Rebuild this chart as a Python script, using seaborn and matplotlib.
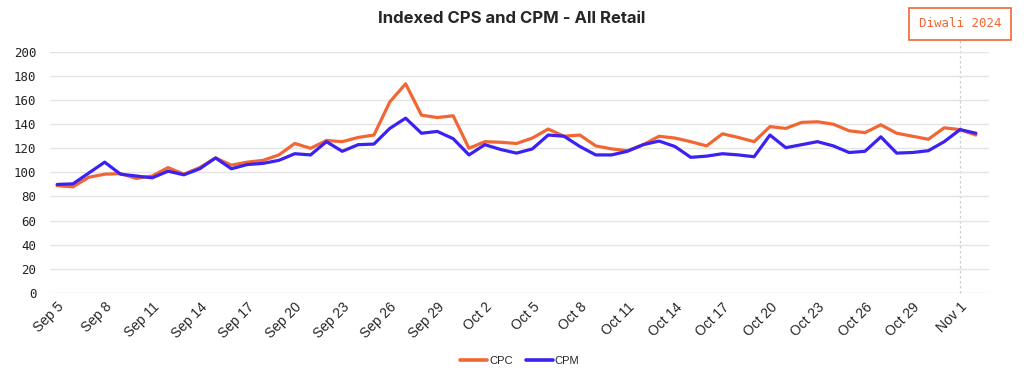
import pandas as pd
import numpy as np
import matplotlib
matplotlib.use('Agg')
import matplotlib.pyplot as plt
import matplotlib.transforms as mtransforms
import seaborn as sns

# ==========================================
# data (one value per day, Sep 5 -> Nov 2)
# ==========================================
start_date = '2024-09-05'
cpc = [89, 88, 96, 98.5, 99, 95, 97, 104, 98.5, 104, 112, 106,
       108.5, 110, 114.5, 124, 120, 126.5, 125.5, 129, 131, 158.5, 173.5, 147.5,
       145.5, 147, 120, 125.5, 125, 124, 128.5, 136, 130, 131, 122, 119.5,
       118, 123, 130, 128.5, 125.5, 122, 132, 129, 125.5, 138, 136.5, 141.5,
       142, 140, 134.5, 133, 139.5, 132.5, 130, 127.5, 137, 135.5, 131]
cpm = [90, 90.5, 99.5, 108.5, 98.5, 97, 95.5, 101, 98, 103, 112, 103,
       106.5, 107.5, 110, 115.5, 114.5, 125.5, 117.5, 123, 123.5, 136.5, 145, 132.5,
       134, 128, 114.5, 123, 119, 116, 119.5, 131, 130, 121.5, 114.5, 114.5,
       117.5, 123, 126, 121.5, 112.5, 113.5, 115.5, 114.5, 113, 131, 120.5, 123,
       125.5, 122, 116.5, 117.5, 129.5, 116, 116.5, 118, 125.5, 135.5, 132.5]
series_names = ['CPC', 'CPM']
tick_step = 3
event_date = '2024-11-01'
event_label = 'Diwali 2024'

dates = pd.date_range(start_date, periods=len(cpc), freq='D')
df = pd.DataFrame({'Date': np.concatenate([dates, dates]),
                   'Value': cpc + cpm,
                   'Metric': [series_names[0]] * len(cpc) + [series_names[1]] * len(cpm)})

# ==========================================
# plot
# ==========================================
sns.set_style('white')
plt.rcParams['font.family'] = ['Liberation Sans', 'DejaVu Sans']

orange = '#F26634'
blue = '#3B22F2'

fig = plt.figure(figsize=(10.24, 3.76), dpi=100)
ax = fig.add_axes([0.049, 0.221, 0.917, 0.641])

sns.lineplot(data=df, x='Date', y='Value', hue='Metric',
             palette={'CPC': orange, 'CPM': blue}, linewidth=2.3, ax=ax)
for ln in ax.get_lines():
    ln.set_solid_joinstyle('round')

d0 = dates[0]
ax.set_xlim(d0 - pd.Timedelta(days=0.44), d0 + pd.Timedelta(days=58.84))
ax.set_ylim(0, 200)
ax.set_yticks(range(0, 201, 20))
ax.yaxis.grid(True, color='#e4e4e4', linewidth=1)
ax.xaxis.grid(False)
for s in ax.spines.values():
    s.set_visible(False)
ax.set_xlabel('')
ax.set_ylabel('')

tick_dates = dates[::tick_step]
ax.set_xticks(tick_dates)
ax.set_xticklabels([f"{d.strftime('%b')} {d.day}" for d in tick_dates],
                   rotation=45, ha='right', rotation_mode='anchor', fontsize=10)
ax.tick_params(axis='x', length=0, pad=5)
ax.tick_params(axis='y', length=0, pad=10)
for lab in ax.get_yticklabels():
    lab.set_family('DejaVu Sans Mono')
    lab.set_fontsize(9)
    lab.set_color('#222222')

# event marker + label box
ev = pd.Timestamp(event_date)
ax.axvline(ev, ymin=0, ymax=1.058, color='#cccccc', linestyle=(0, (2, 2)),
           linewidth=0.9, clip_on=False, zorder=0)
trans = mtransforms.blended_transform_factory(ax.transData, ax.transAxes)
ax.text(ev, 1.116, event_label, transform=trans, ha='center', va='center',
        family='DejaVu Sans Mono', fontsize=9, color=orange,
        bbox=dict(boxstyle='square,pad=0.75', facecolor='white',
                  edgecolor=orange, linewidth=1.2))

fig.text(0.5, 0.952, 'Indexed CPS and CPM - All Retail', ha='center', va='center',
         fontsize=12, fontweight='bold', family=['Inter', 'DejaVu Sans'])

leg = ax.legend(loc='center', bbox_to_anchor=(0.5, -0.282), ncol=2, frameon=False,
                fontsize=8, handlelength=2.4, handletextpad=0.2, columnspacing=1.2)
for h in leg.get_lines():
    h.set_linewidth(2.6)

plt.savefig('out.png', dpi=100)
